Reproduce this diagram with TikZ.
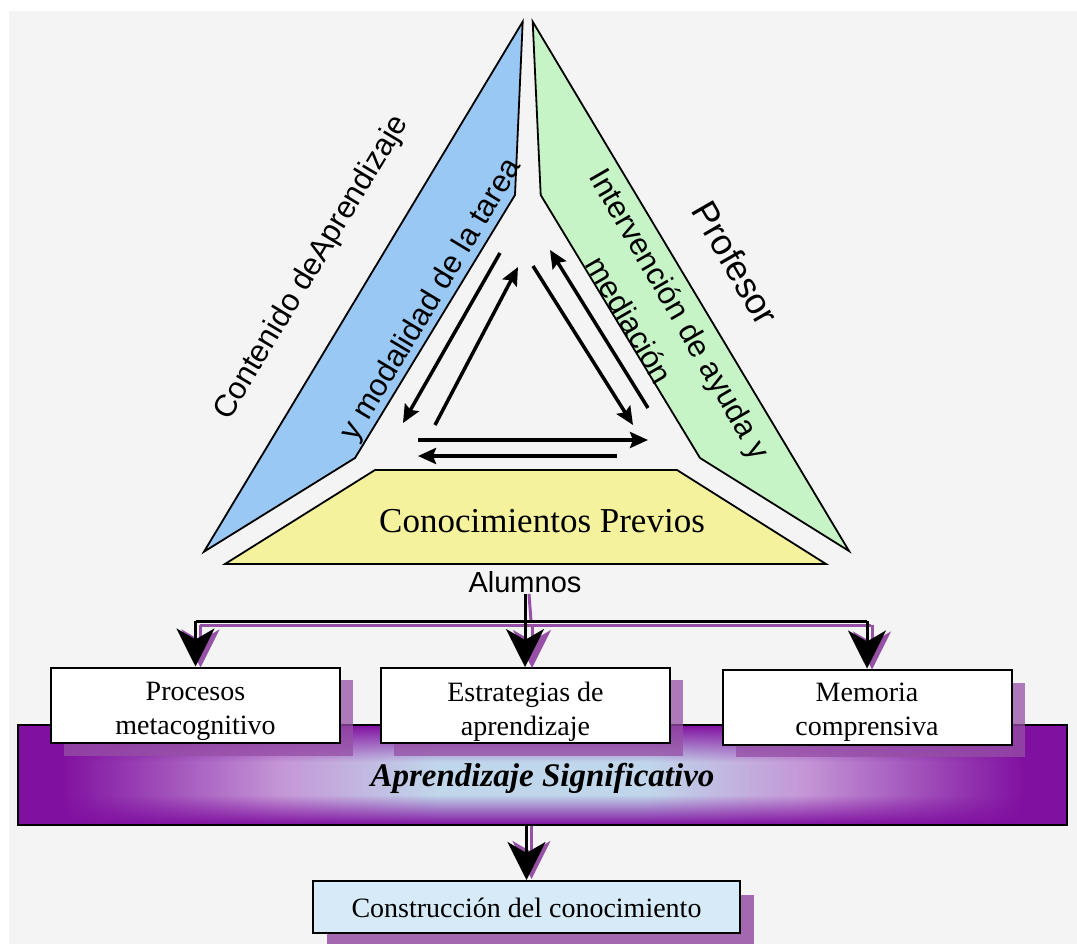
\documentclass[tikz,border=0pt]{standalone}
\usepackage{fontspec}
\setmainfont{Liberation Serif}
\setsansfont{Liberation Sans}
\usetikzlibrary{arrows.meta,fadings}

\definecolor{bgc}{HTML}{F4F4F4}
\definecolor{blueF}{HTML}{99C8F4}
\definecolor{greenF}{HTML}{C6F4C6}
\definecolor{yellowF}{HTML}{F4F29C}
\definecolor{pA}{RGB}{128,16,160}
\definecolor{pB}{RGB}{196,150,214}
\definecolor{pC}{RGB}{192,214,234}
\definecolor{shad}{RGB}{150,80,165}
\definecolor{lblue}{HTML}{D6EBF7}

\pgfdeclarehorizontalshading{barshade}{100bp}{color(0bp)=(pA); color(27bp)=(pA); color(37.5bp)=(pB); color(45bp)=(pC); color(55bp)=(pC); color(62.5bp)=(pB); color(73bp)=(pA); color(100bp)=(pA)}
\tikzfading[name=fadedown, top color=transparent!0, bottom color=transparent!100]
\tikzfading[name=fadeup, top color=transparent!100, bottom color=transparent!0]

\tikzset{
  shapeline/.style={draw=black, line width=1.8pt, line join=miter},
  rottext/.style={font=\sffamily\fontsize{31}{36}\selectfont, inner sep=0pt},
  boxtext/.style={font=\fontsize{28}{34}\selectfont, align=center, inner sep=0pt},
  wbox/.style={draw=black, line width=2pt, fill=white, minimum width=289pt, minimum height=75pt, inner sep=0pt},
  triarrow/.style={line width=3.5pt, -{Stealth[length=18pt,width=16pt,inset=3pt]}},
  bigarrow/.style={line width=3pt, -{Stealth[length=38pt,width=38pt,inset=11pt]}},
  bigline/.style={line width=3pt},
}

\begin{document}
\begin{tikzpicture}[x=1pt,y=-1pt]
\useasboundingbox (0,0) rectangle (1077,944);
\fill[white] (0,0) rectangle (1077,944);
\fill[bgc] (9,11) rectangle (1077,944);

% triangle parts
\fill[blueF] (522.7,21.7) -- (515,195) -- (355,458) -- (204,551.7) -- cycle;
\draw[shapeline] (522.7,21.7) -- (515,195) -- (355,458) -- (204,551.7) -- cycle;
\fill[greenF] (532.7,21.7) -- (540.7,195) -- (700,458) -- (849,551) -- cycle;
\draw[shapeline] (532.7,21.7) -- (540.7,195) -- (700,458) -- (849,551) -- cycle;
\fill[yellowF] (375,470) -- (677,470) -- (826,564) -- (225,564) -- cycle;
\draw[shapeline] (375,470) -- (677,470) -- (826,564) -- (225,564) -- cycle;

% rotated texts
\node[rottext, rotate=59] (contenido) at (312,268) {Contenido deAprendizaje};
\node[rottext, rotate=59] (modalidad) at (432,300) {y modalidad de la tarea};
\node[rottext, rotate=-60] (interv) at (678,315) {Intervención de ayuda y};
\node[rottext, rotate=-60] (mediac) at (630,320) {mediación};
\node[rottext, rotate=-60, font=\sffamily\fontsize{36}{40}\selectfont] (profesor) at (736,263) {Profesor};
\node[font=\fontsize{35}{38}\selectfont, inner sep=0pt] (previos) at (542,521) {Conocimientos Previos};

% inner arrows
\coordinate (a1s) at (500,253); \coordinate (a1e) at (403,423);
\coordinate (a2s) at (435,425); \coordinate (a2e) at (518,267);
\coordinate (a3s) at (533,266); \coordinate (a3e) at (633,425);
\coordinate (a4s) at (648,408); \coordinate (a4e) at (550,250);
\coordinate (a5s) at (418,440); \coordinate (a5e) at (648,440);
\coordinate (a6s) at (617,456); \coordinate (a6e) at (418,456);
\draw[triarrow] (a1s) -- (a1e);
\draw[triarrow] (a2s) -- (a2e);
\draw[triarrow] (a3s) -- (a3e);
\draw[triarrow] (a4s) -- (a4e);
\draw[triarrow] (a5s) -- (a5e);
\draw[triarrow] (a6s) -- (a6e);

\node[font=\sffamily\fontsize{29}{32}\selectfont, inner sep=1pt] (alumnos) at (525,582) {Alumnos};

% purple bar
\shade[shading=barshade] (18,725) rectangle (1067,825);
\fill[pA, path fading=fadedown] (18,725) rectangle (1067,762);
\fill[pA, path fading=fadeup] (18,795) rectangle (1067,825);
\node[draw=black, line width=2pt, minimum width=1049pt, minimum height=100pt, inner sep=0pt] (bar) at (542.5,775) {};
\node[font=\bfseries\itshape\fontsize{33}{36}\selectfont, inner sep=0pt] (aprsig) at ([yshift=-3pt]bar.center) {Aprendizaje Significativo};

% box shadows
\fill[shad, opacity=0.75] (64,680) rectangle (353,756);
\fill[shad, opacity=0.75] (394,680) rectangle (683,756);
\fill[shad, opacity=0.75] (736,683) rectangle (1025,757);
\fill[shad, opacity=0.85] (327,895) rectangle (754,944);

% boxes
\node[wbox] (box1) at (195.5,705) {};
\node[wbox] (box2) at (525.5,705.5) {};
\node[wbox] (box3) at (867,707) {};
\node[wbox, fill=lblue, minimum width=427pt, minimum height=52pt] (box4) at (526.5,907) {};
\node[boxtext] (t1) at ([yshift=-6pt]box1.center) {Procesos\\metacognitivo};
\node[boxtext] (t2) at ([yshift=-6pt]box2.center) {Estrategias de\\aprendizaje};
\node[boxtext] (t3) at ([yshift=-5pt]box3.center) {Memoria\\comprensiva};
\node[boxtext] (t4) at ([yshift=-1pt]box4.center) {Construcción del conocimiento};

% bracket connectors
\coordinate (j) at (527,621);
\coordinate (jl) at (j -| box1.north);
\coordinate (jr) at (j -| box3.north);
\draw[shad, bigline] ([shift={(4,4)}]jl) -- ([shift={(4,4)}]jr);
\draw[shad, bigline] ([shift={(4,0)}]alumnos.south) -- ([shift={(4,0)}]j);
\draw[shad, bigarrow] ([shift={(5,4)}]jl) -- ([shift={(5,1)}]box1.north);
\draw[shad, bigarrow] ([shift={(5,4)}]j) -- ([shift={(5,1)}]j |- box2.north);
\draw[shad, bigarrow] ([shift={(5,4)}]jr) -- ([shift={(5,1)}]box3.north);
\draw[bigline] (jl) -- (jr);
\draw[bigarrow] (alumnos.south) -- (alumnos.south |- box2.north);
\draw[bigarrow] (jl) -- (box1.north);
\draw[bigarrow] (jr) -- (box3.north);

% bottom connector
\draw[shad, bigarrow] ([shift={(5,0)}]bar.south -| box4.north) -- ([shift={(5,-1)}]box4.north);
\draw[bigarrow] (bar.south -| box4.north) -- (box4.north);
\end{tikzpicture}
\end{document}
